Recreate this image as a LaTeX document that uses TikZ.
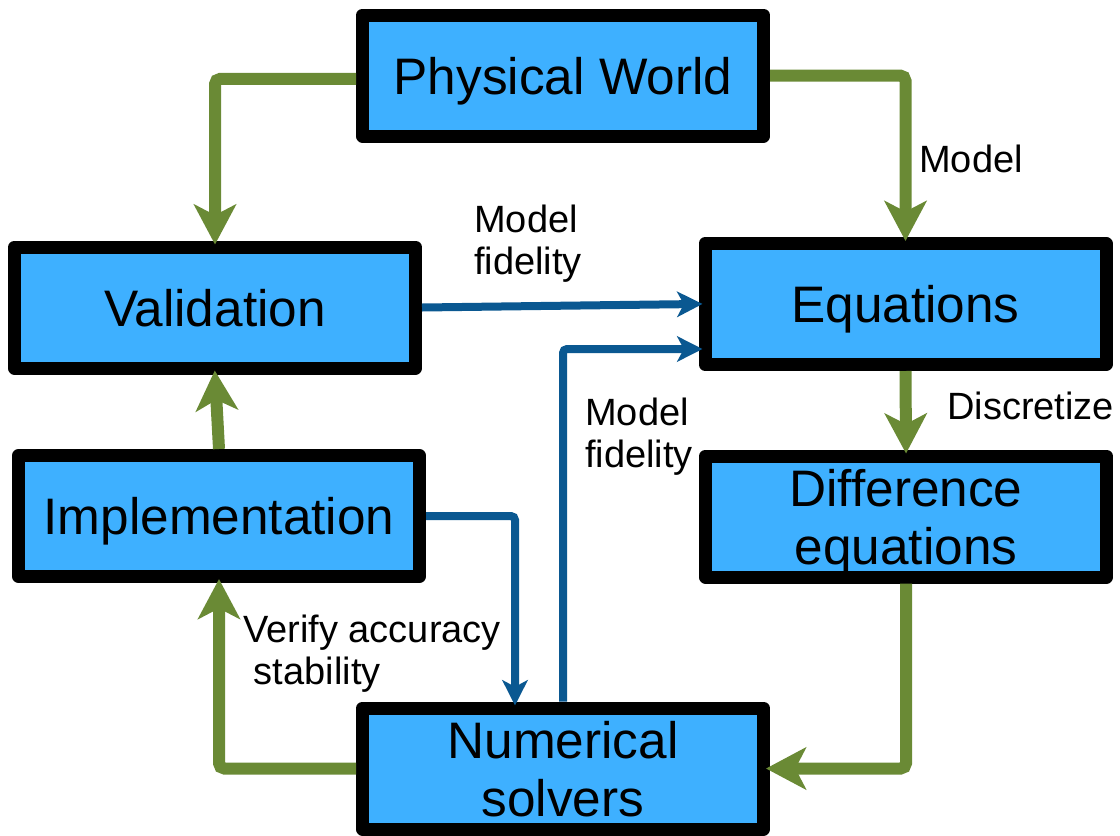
\documentclass[tikz,border=0pt]{standalone}
\usepackage{fontspec}
\setmainfont{Liberation Sans}
\usetikzlibrary{arrows.meta,calc}
\definecolor{boxfill}{RGB}{62,176,255}
\definecolor{flowgreen}{RGB}{106,138,53}
\definecolor{flowblue}{RGB}{10,88,145}
\tikzset{
  blk/.style={draw=black,fill=boxfill,line width=9.75pt,line join=round,align=center,
              inner sep=0pt,minimum width=300.75pt,minimum height=90.75pt,text depth=0pt,
              font=\fontsize{38.5}{43.5}\selectfont},
  gflow/.style={-{Stealth[length=30pt,width=31.5pt,inset=8pt]},line width=9pt,
                draw=flowgreen,rounded corners=4pt,shorten >=-3pt},
  bflow/.style={-{Stealth[length=19pt,width=19pt,inset=5pt]},line width=6pt,
                draw=flowblue,rounded corners=3pt,shorten >=-3pt},
  lbl/.style={font=\fontsize{28.5}{31.5}\selectfont,inner sep=0pt,align=left,anchor=north west},
}
\begin{document}
\begin{tikzpicture}[x=0.75pt,y=-0.75pt]
  \useasboundingbox (0,0) rectangle (1120,835);
  % boxes
  \node[blk] (pw)   at (563,75.5)  {Physical World};
  \node[blk] (val)  at (215,307.5) {Validation};
  \node[blk] (eq)   at (905.5,304) {Equations};
  \node[blk] (impl) at (219,516)   {Implementation};
  \node[blk] (diff) at (906,516.5) {Difference\\equations};
  \node[blk] (num)  at (563,768.5) {Numerical\\solvers};

  % green loop
  \draw[gflow] ([yshift=-2.5pt]pw.west) -| (val.north);
  \draw[gflow] (pw.east) -| (eq.north);
  \draw[gflow] (eq.south) -- (diff.north);
  \draw[gflow] (diff.south) |- (num.east);
  \draw[gflow] (num.west) -| (impl.south);
  \draw[gflow] (impl.north) -- (val.south);

  % blue links
  \draw[bflow] (val.east) -- (eq.west);
  \draw[bflow] (num.north) |- ($(eq.west)+(0,45)$);
  \draw[bflow] (impl.east) -| ($(num.north)+(-48,0)$);

  % labels
  \node[lbl] (mdl)  at (919,145) {Model};
  \node[lbl] (disc) at (947,392) {Discretize};
  \node[lbl] (fid1) at (474,205) {Model\\fidelity};
  \node[lbl] (fid2) at (585,398) {Model\\fidelity};
  \node[lbl] (ver)  at (243,615) {Verify accuracy\\\hspace*{0.28em}stability};
\end{tikzpicture}
\end{document}
